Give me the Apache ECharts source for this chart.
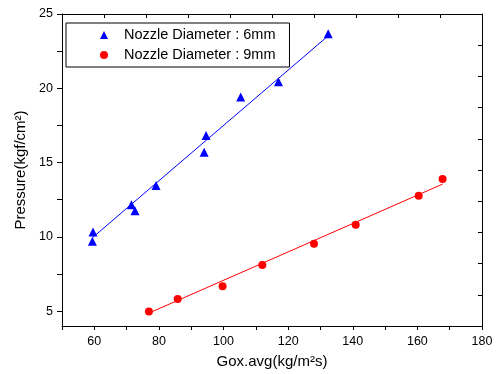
<!DOCTYPE html>
<html>
<head>
<meta charset="utf-8">
<script src="https://cdn.jsdelivr.net/npm/echarts@6/dist/echarts.min.js"></script>
<style>
  html, body { margin: 0; padding: 0; background: #fff; }
  #chart { width: 497px; height: 374px; }
</style>
</head>
<body>
<div id="chart"></div>
<script>
// measured points, nozzle 6mm
const gox6 = [59.4, 59.6, 71.5, 72.6, 79.1, 94.0, 94.6, 105.3, 117.0, 132.4];
const p6 = [9.71, 10.33, 12.16, 11.76, 13.45, 15.69, 16.82, 19.42, 20.44, 23.67];
// measured points, nozzle 9mm
const gox9 = [76.9, 85.8, 99.7, 112.0, 128.0, 140.9, 160.4, 167.8];
const p9 = [4.98, 5.82, 6.67, 8.11, 9.53, 10.82, 12.76, 13.89];
// fit line end points
const fit6X = [59.4, 132.4];
const fit6Y = [9.94, 23.53];
const fit9X = [76.9, 167.8];
const fit9Y = [4.87, 13.55];

const xLabels = [60, 80, 100, 120, 140, 160, 180];
const yLabels = [5, 10, 15, 20, 25];
const yTicks = [5, 7.5, 10, 12.5, 15, 17.5, 20, 22.5, 25];

const name6 = "Nozzle Diameter : 6mm";
const name9 = "Nozzle Diameter : 9mm";

const pairs = (xs, ys) => xs.map((x, i) => [x, ys[i]]);

const font = "'Liberation Sans', Arial, sans-serif";
const axisLine = { show: true, onZero: false, lineStyle: { color: "#000", width: 1 } };

const chart = echarts.init(document.getElementById("chart"), null, { renderer: "canvas" });

chart.setOption({
  animation: false,
  textStyle: { fontFamily: font },
  grid: { left: 62, right: 15, top: 14, bottom: 46 },
  legend: {
    data: [name6, name9],
    orient: "vertical",
    left: 66,
    top: 23,
    padding: [4, 14, 4, 34],
    borderColor: "#000",
    borderWidth: 1,
    itemWidth: 8,
    itemHeight: 8,
    itemGap: 4,
    textStyle: { fontFamily: font, fontSize: 14.5, color: "#000", lineHeight: 16, padding: [0, 0, 0, 11] },
  },
  xAxis: [
    {
      type: "value",
      min: 50,
      max: 180,
      interval: 10,
      axisLine,
      splitLine: { show: false },
      axisTick: { length: 4, lineStyle: { color: "#000" } },
      axisLabel: { customValues: xLabels, fontSize: 12.5, color: "#000", margin: 9, fontFamily: font },
      name: "Gox.avg(kg/m²s)",
      nameLocation: "middle",
      nameGap: 28,
      nameTextStyle: { fontSize: 15, color: "#000", fontFamily: font },
    },
    {
      type: "value",
      position: "top",
      min: 0,
      max: 10,
      interval: 1,
      axisLine,
      splitLine: { show: false },
      axisTick: { inside: true, length: 4, lineStyle: { color: "#000" } },
      axisLabel: { show: false },
    },
  ],
  yAxis: [
    {
      type: "value",
      min: 4,
      max: 25,
      axisLine,
      splitLine: { show: false },
      axisTick: { customValues: yTicks, length: 5, lineStyle: { color: "#000" } },
      axisLabel: { customValues: yLabels, fontSize: 12.5, color: "#000", margin: 9, fontFamily: font },
      name: "Pressure(kgf/cm²)",
      nameLocation: "middle",
      nameGap: 31,
      nameTextStyle: { fontSize: 15, color: "#000", fontFamily: font },
    },
    {
      type: "value",
      position: "right",
      min: 0,
      max: 10,
      interval: 1,
      axisLine,
      splitLine: { show: false },
      axisTick: { inside: true, length: 4, lineStyle: { color: "#000" } },
      axisLabel: { show: false },
    },
  ],
  series: [
    {
      name: "fit6",
      type: "line",
      data: pairs(fit6X, fit6Y),
      showSymbol: false,
      lineStyle: { color: "#0000ff", width: 1 },
      z: 1,
    },
    {
      name: "fit9",
      type: "line",
      data: pairs(fit9X, fit9Y),
      showSymbol: false,
      lineStyle: { color: "#ff0000", width: 1 },
      z: 1,
    },
    {
      name: name6,
      type: "scatter",
      data: pairs(gox6, p6),
      symbol: "triangle",
      symbolSize: 9,
      itemStyle: { color: "#0000ff", opacity: 1 },
      z: 2,
    },
    {
      name: name9,
      type: "scatter",
      data: pairs(gox9, p9),
      symbol: "circle",
      symbolSize: 8,
      itemStyle: { color: "#ff0000", opacity: 1 },
      z: 2,
    },
  ],
});
</script>
</body>
</html>
